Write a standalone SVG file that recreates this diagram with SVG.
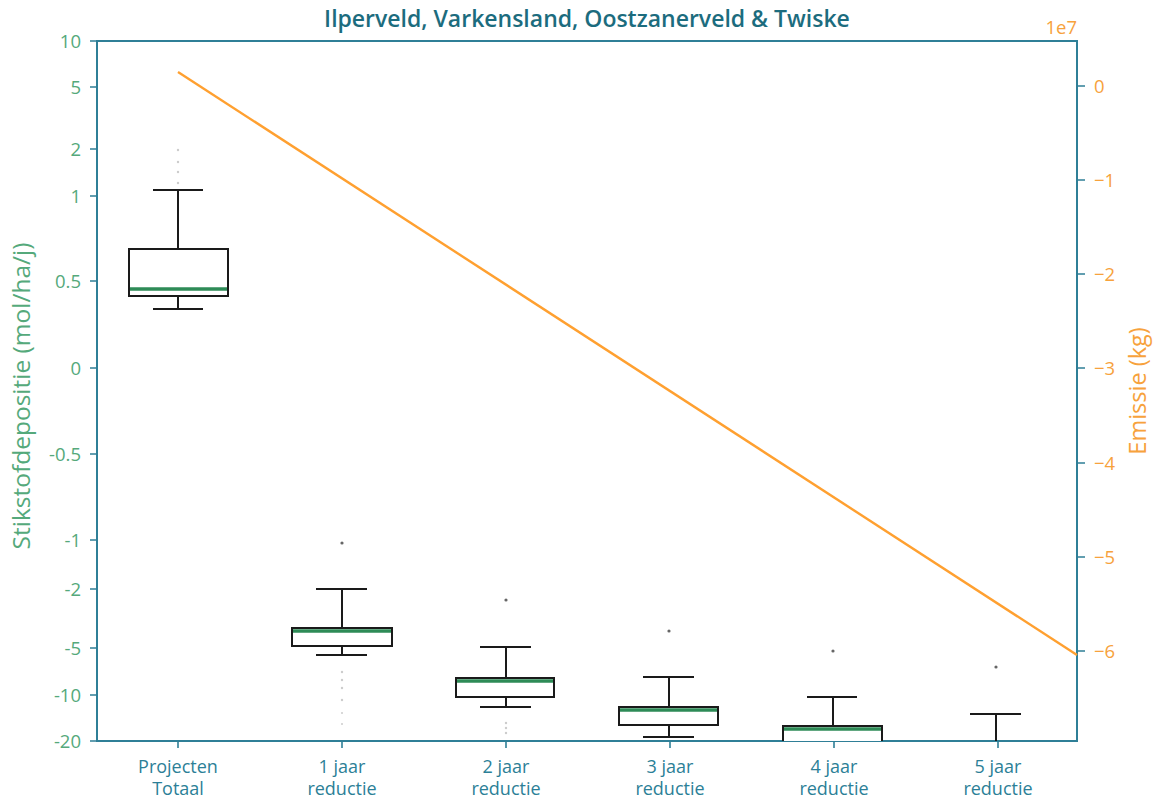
<svg xmlns="http://www.w3.org/2000/svg" width="1156" height="800" viewBox="0 0 1156 800">
<style>
text{font-family:"Open Sans","Noto Sans","DejaVu Sans",sans-serif}
.yl{fill:#55a97b;font-size:18.5px;text-anchor:end}
.yr{fill:#f7a23c;font-size:18.5px}
.xl{fill:#2c7f97;font-size:18px;text-anchor:middle}
.sp{stroke:#2f7f97;stroke-width:2;fill:none}
.tk{stroke:#2f7f97;stroke-width:1.6}
.bx{fill:#fff;stroke:#1a1a1a;stroke-width:2}
.wh{stroke:#1a1a1a;stroke-width:2;fill:none}
.md{stroke:#2e8b57;stroke-width:3.5}
.ol{fill:#666}
.fo{fill:#ccc}
</style>
<rect width="1156" height="800" fill="#fff"/>
<text x="587" y="27" text-anchor="middle" font-size="23" font-weight="600" fill="#1c6c7e">Ilperveld, Varkensland, Oostzanerveld &amp; Twiske</text>
<g id="axes">
<rect class="sp" x="97" y="41" width="980" height="700"/>
<g id="left-ticks">
<path class="tk" d="M90 41H97M90 87H97M90 149H97M90 196H97M90 281H97M90 368H97M90 454H97M90 540H97M90 589H97M90 648H97M90 695H97M90 741H97"/>
<text class="yl" x="81" y="48">10</text>
<text class="yl" x="81" y="94">5</text>
<text class="yl" x="81" y="156">2</text>
<text class="yl" x="81" y="203">1</text>
<text class="yl" x="81" y="288">0.5</text>
<text class="yl" x="81" y="375">0</text>
<text class="yl" x="81" y="461">-0.5</text>
<text class="yl" x="81" y="547">-1</text>
<text class="yl" x="81" y="596">-2</text>
<text class="yl" x="81" y="655">-5</text>
<text class="yl" x="81" y="702">-10</text>
<text class="yl" x="81" y="748">-20</text>
</g>
<g id="right-ticks">
<path class="tk" d="M1077 86H1085M1077 180H1085M1077 274H1085M1077 368H1085M1077 463H1085M1077 557H1085M1077 651H1085"/>
<text class="yr" x="1094" y="93">0</text>
<text class="yr" x="1094" y="187">−1</text>
<text class="yr" x="1094" y="281">−2</text>
<text class="yr" x="1094" y="375">−3</text>
<text class="yr" x="1094" y="470">−4</text>
<text class="yr" x="1094" y="564">−5</text>
<text class="yr" x="1094" y="658">−6</text>
<text class="yr" x="1077" y="34" text-anchor="end">1e7</text>
</g>
<g id="bottom-ticks">
<path class="tk" d="M178 741V748M342 741V748M506 741V748M670 741V748M834 741V748M998 741V748"/>
<text class="xl" y="773"><tspan x="178">Projecten</tspan><tspan x="178" dy="22">Totaal</tspan></text>
<text class="xl" y="773"><tspan x="342">1 jaar</tspan><tspan x="342" dy="22">reductie</tspan></text>
<text class="xl" y="773"><tspan x="506">2 jaar</tspan><tspan x="506" dy="22">reductie</tspan></text>
<text class="xl" y="773"><tspan x="670">3 jaar</tspan><tspan x="670" dy="22">reductie</tspan></text>
<text class="xl" y="773"><tspan x="834">4 jaar</tspan><tspan x="834" dy="22">reductie</tspan></text>
<text class="xl" y="773"><tspan x="998">5 jaar</tspan><tspan x="998" dy="22">reductie</tspan></text>
</g>
<text x="0" y="0" transform="translate(30 396) rotate(-90)" text-anchor="middle" font-size="24.5" fill="#55a97b">Stikstofdepositie (mol/ha/j)</text>
<text x="0" y="0" transform="translate(1146 391) rotate(-90)" text-anchor="middle" font-size="23.5" fill="#f7a23c">Emissie (kg)</text>
</g>
<g id="box-projecten">
<circle class="fo" cx="178" cy="150" r="1.2"/><circle class="fo" cx="178" cy="162" r="1.2"/><circle class="fo" cx="178" cy="172" r="1.2"/><circle class="fo" cx="178" cy="183" r="1.2"/>
<path class="wh" d="M178 249V190M153 190H203M178 296V309M153 309H203"/>
<rect class="bx" x="129" y="249" width="99" height="47"/>
<path class="md" d="M130 289H227"/>
</g>
<g id="box-1jaar">
<circle class="ol" cx="342" cy="543" r="1.6"/>
<circle class="fo" cx="342" cy="672" r="1.2"/><circle class="fo" cx="342" cy="680" r="1.2"/><circle class="fo" cx="342" cy="688" r="1.2"/><circle class="fo" cx="342" cy="700" r="1.2"/><circle class="fo" cx="342" cy="713" r="1"/><circle class="fo" cx="342" cy="724" r="1"/>
<path class="wh" d="M342 628V589M316 589H367M342 646V655M316 655H367"/>
<rect class="bx" x="292" y="628" width="100" height="18"/>
<path class="md" d="M293 631H391"/>
</g>
<g id="box-2jaar">
<circle class="ol" cx="506" cy="600" r="1.6"/>
<circle class="fo" cx="506" cy="723" r="1.2"/><circle class="fo" cx="506" cy="728" r="1.2"/><circle class="fo" cx="506" cy="733" r="1.2"/>
<path class="wh" d="M506 678V647M480 647H531M506 697V707M480 707H531"/>
<rect class="bx" x="456" y="678" width="98" height="19"/>
<path class="md" d="M457 681H553"/>
</g>
<g id="box-3jaar">
<circle class="ol" cx="669" cy="631" r="1.6"/>
<path class="wh" d="M669 707V677M643 677H694M669 725V737M643 737H694"/>
<rect class="bx" x="619" y="707" width="99" height="18"/>
<path class="md" d="M620 710H717"/>
</g>
<g id="box-4jaar">
<circle class="ol" cx="833" cy="651" r="1.6"/>
<path class="wh" d="M833 726V697M807 697H857"/>
<path class="bx" d="M783 741V726H882V741"/>
<path class="md" d="M784 729H881"/>
</g>
<g id="box-5jaar">
<circle class="ol" cx="996" cy="667" r="1.6"/>
<path class="wh" d="M996 741V714M970 714H1021"/>
</g>
<g id="connectors">
<path d="M178 72L1077 655" stroke="#ffa030" stroke-width="2.4" fill="none"/>
</g>
</svg>
